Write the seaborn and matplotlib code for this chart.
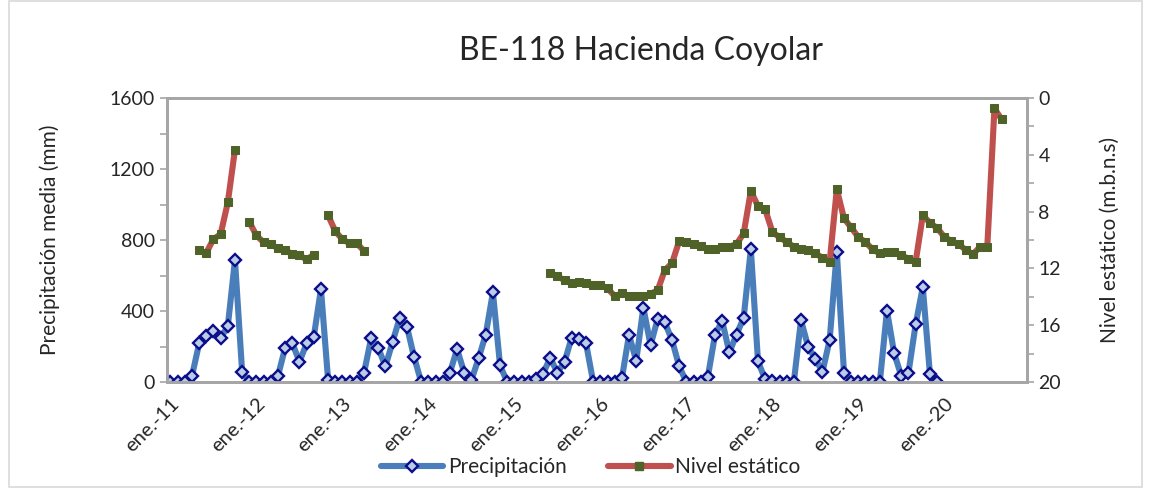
import numpy as np
import pandas as pd
import matplotlib
matplotlib.use("Agg")
import matplotlib.pyplot as plt
from matplotlib.lines import Line2D
from matplotlib.patches import Rectangle
import seaborn as sns

sns.set_style("white")
plt.rcParams['font.family'] = ['Lato', 'DejaVu Sans']

#%% datos
# precipitación media mensual (mm), ene-2011 .. dic-2019
precip = [0, 0, 0, 34, 218, 259, 289, 248, 315, 687, 58, 0,
          0, 0, 0, 34, 193, 221, 114, 218, 255, 524, 11, 0,
          0, 0, 0, 49, 246, 193, 88, 227, 362, 313, 141, 0,
          0, 0, 0, 53, 186, 53, 11, 133, 268, 505, 94, 0,
          0, 0, 0, 19, 47, 137, 53, 114, 251, 242, 218, 0,
          0, 0, 0, 21, 266, 120, 420, 208, 356, 336, 236, 90,
          0, 0, 0, 30, 266, 345, 167, 268, 362, 749, 117, 15,
          6, 0, 0, 0, 349, 199, 131, 58, 238, 734, 54, 0,
          0, 0, 0, 0, 403, 163, 34, 53, 325, 535, 43, 0]

# nivel estático (m.b.n.s), ene-2011 .. sep-2020 (None = sin dato)
nivel = [None, None, None, None, 10.73, 10.89, 9.93, 9.58, 7.35, 3.64, None, 8.73,
         9.67, 10.16, 10.28, 10.59, 10.68, 11.01, 11.08, 11.36, 11.03, None, 8.26, 9.37,
         9.95, 10.23, 10.23, 10.75] + [None] * 25 + \
        [12.30, 12.56, 12.82, 13.05, 12.96, 13.01, 13.15,
         13.17, 13.40, 13.94, 13.76, 13.94, 13.92, 13.94, 13.80, 13.52, 12.11, 11.62, 10.07,
         10.12, 10.28, 10.42, 10.66, 10.66, 10.47, 10.47, 10.28, 9.53, 6.55, 7.61, 7.84,
         9.41, 9.81, 10.12, 10.47, 10.63, 10.73, 10.94, 11.24, 11.53, 6.43, 8.47, 9.11,
         9.79, 10.14, 10.66, 10.94, 10.87, 10.87, 11.06, 11.31, 11.53, 8.26, 8.78, 9.15,
         9.77, 10.07, 10.28, 10.70, 10.99, 10.47, 10.47, 0.73, 1.50]

xlabels = ['ene.-11', 'ene.-12', 'ene.-13', 'ene.-14', 'ene.-15',
           'ene.-16', 'ene.-17', 'ene.-18', 'ene.-19', 'ene.-20']
n_months = 120

df_p = pd.DataFrame({'mes': np.arange(len(precip)), 'precip': precip})
df_n = pd.DataFrame({'mes': np.arange(len(nivel)), 'nivel': pd.to_numeric(pd.Series(nivel))})
df_n['tramo'] = df_n['nivel'].isna().cumsum()
df_n = df_n.dropna()

#%% figura
fig = plt.figure(figsize=(11.51, 4.88), dpi=100)
ax = fig.add_axes([0.145, 0.217, 0.747, 0.582])
ax2 = ax.twinx()

p_style = dict(color='#4a7ebb', lw=4.4, marker='D', markersize=6,
               markerfacecolor='#b9cde5', markeredgecolor='#0d0d8c', markeredgewidth=1.7)
n_style = dict(color='#c0504d', lw=4.4, marker='s', markersize=6.3,
               markerfacecolor='#4f6228', markeredgecolor='#4f6228')

sns.lineplot(data=df_p, x='mes', y='precip', ax=ax, zorder=3, **p_style)
sns.lineplot(data=df_n, x='mes', y='nivel', units='tramo', estimator=None, ax=ax2,
             zorder=3, **n_style)

ax.set_xlim(-0.5, n_months - 0.5)
ax.set_ylim(0, 1600)
ax2.set_ylim(20, 0)

ax.set_xticks(np.arange(0, 12 * len(xlabels), 12))
ax.set_xticklabels(xlabels, rotation=45, ha='right', rotation_mode='anchor', fontsize=14.5)
ax.set_xticks(np.arange(5.5, n_months, 6), minor=True)
ax.tick_params(axis='x', which='major', length=0, pad=9)
ax.tick_params(axis='x', which='minor', length=5, width=1.2, color='#a6a6a6', direction='in')

ax.set_yticks(np.arange(0, 1601, 400))
ax.set_yticks(np.arange(0, 1601, 200), minor=True)
ax.tick_params(axis='y', which='both', length=5, width=1.2, color='#a6a6a6', labelsize=14, left=True)
ax2.set_yticks(np.arange(0, 21, 4))
ax2.set_yticks(np.arange(0, 21, 2), minor=True)
ax2.tick_params(axis='y', which='both', length=5, width=1.2, color='#a6a6a6', labelsize=14, right=True)

ax.set_xlabel('')
ax.set_ylabel('Precipitación media (mm)', fontsize=15, labelpad=36)
ax2.set_ylabel('Nivel estático (m.b.n.s)', fontsize=15, labelpad=28)

for a in (ax, ax2):
    for s in a.spines.values():
        s.set_color('#a6a6a6')
        s.set_linewidth(2)

fig.text(0.557, 0.895, 'BE-118 Hacienda Coyolar', ha='center', va='center', fontsize=23)

handles = [Line2D([], [], **p_style), Line2D([], [], **n_style)]
fig.legend(handles, ['Precipitación', 'Nivel estático'], loc='center', ncol=2,
           bbox_to_anchor=(0.513, 0.043), frameon=False, fontsize=15,
           handlelength=3.0, handletextpad=0.2, columnspacing=2.0, numpoints=1)

fig.patches.append(Rectangle((0.008, 0.002), 0.984, 0.996, transform=fig.transFigure,
                             fill=False, edgecolor='#d9d9d9', lw=1.2))

fig.savefig('out.png', dpi=100)
